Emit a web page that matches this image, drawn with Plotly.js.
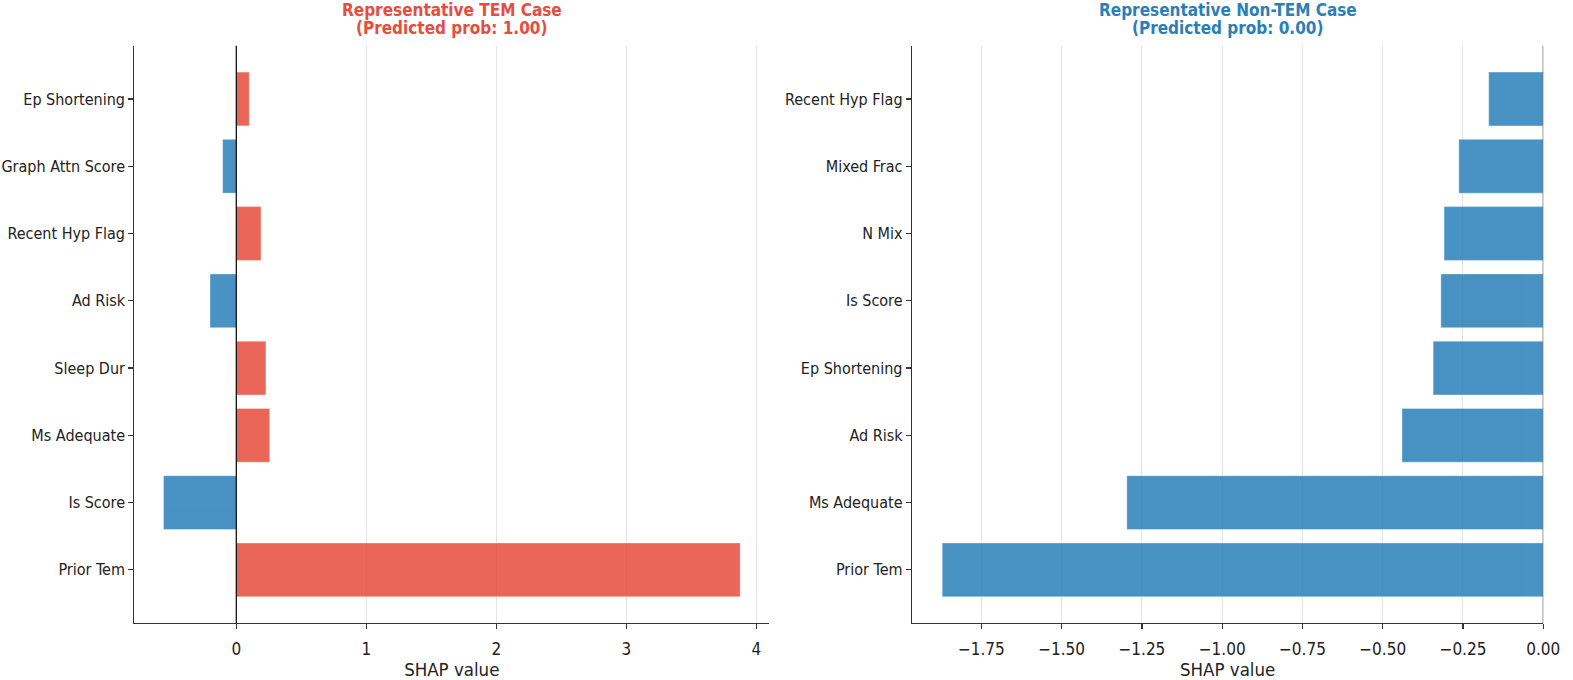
<!DOCTYPE html>
<html>
<head>
<meta charset="utf-8">
<script src="https://cdn.plot.ly/plotly-3.0.1.min.js"></script>
<style>
  html, body { margin: 0; padding: 0; background: #fff; }
  #plot { width: 1573px; height: 680px; }
</style>
</head>
<body>
<div id="plot"></div>
<script>
// SHAP contributions, listed bottom to top as drawn
const temFeatures = ["Prior Tem", "Is Score", "Ms Adequate", "Sleep Dur", "Ad Risk",
                     "Recent Hyp Flag", "Graph Attn Score", "Ep Shortening"];
const temValues = [3.876, -0.56, 0.257, 0.228, -0.202, 0.19, -0.105, 0.10];

const nonTemFeatures = ["Prior Tem", "Ms Adequate", "Ad Risk", "Ep Shortening", "Is Score",
                        "N Mix", "Mixed Frac", "Recent Hyp Flag"];
const nonTemValues = [-1.872, -1.297, -0.440, -0.343, -0.319, -0.309, -0.263, -0.170];

const temTitle = ["Representative TEM Case", "(Predicted prob: 1.00)"];
const nonTemTitle = ["Representative Non-TEM Case", "(Predicted prob: 0.00)"];

const RED = "#e74c3c";
const BLUE = "#2980b9";
const FONT = "DejaVu Sans Condensed, DejaVu Sans, sans-serif";

const signColor = v => v >= 0 ? RED : BLUE;

function barTrace(features, values, xa, ya) {
    return {
        type: "bar",
        orientation: "h",
        x: values,
        y: features,
        xaxis: xa,
        yaxis: ya,
        width: 0.8,
        opacity: 0.85,
        marker: { color: values.map(signColor), line: { color: "rgba(255,255,255,0.6)", width: 0.6 } },
        hoverinfo: "x+y"
    };
}

const xCommon = {
    showgrid: true,
    gridcolor: "#e4e4e4",
    gridwidth: 1,
    zeroline: false,
    showline: true,
    linecolor: "#333",
    linewidth: 1.3,
    ticks: "outside",
    ticklen: 5,
    tickwidth: 1.2,
    tickcolor: "#333",
    ticklabelstandoff: 5,
    tickfont: { family: FONT, size: 17, color: "#222" },
    title: { text: "SHAP value", font: { family: FONT, size: 18.5, color: "#222" }, standoff: 4 },
    automargin: false,
    fixedrange: true
};

const yCommon = {
    type: "category",
    range: [-0.79, 7.79],
    showgrid: false,
    zeroline: false,
    showline: true,
    linecolor: "#333",
    linewidth: 1.3,
    ticks: "outside",
    ticklen: 5,
    tickwidth: 1.2,
    tickcolor: "#333",
    tickfont: { family: FONT, size: 16, color: "#222" },
    automargin: false,
    fixedrange: true
};

const leftDom = [0.0855, 0.4889];
const rightDom = [0.5798, 0.9811];

function titleLines(lines, dom, color) {
    const cx = (dom[0] + dom[1]) / 2;
    return lines.map((t, i) => ({
        text: "<b>" + t + "</b>", xref: "paper", yref: "paper",
        x: cx, y: 1 - (10 + 18.5 * i) / 680, xanchor: "center", yanchor: "middle",
        showarrow: false, font: { family: FONT, size: 17, color: color }
    }));
}

const layout = {
    width: 1573,
    height: 680,
    margin: { l: 0, r: 0, t: 0, b: 0 },
    paper_bgcolor: "#fff",
    plot_bgcolor: "#fff",
    showlegend: false,
    font: { family: FONT },
    xaxis: Object.assign({}, xCommon, {
        domain: leftDom, anchor: "y",
        range: [-0.783, 4.098], dtick: 1, tick0: 0
    }),
    yaxis: Object.assign({}, yCommon, { domain: [0.0838, 0.9326], anchor: "x" }),
    xaxis2: Object.assign({}, xCommon, {
        domain: rightDom, anchor: "y2",
        range: [-1.966, 0], dtick: 0.25, tick0: 0, tickformat: ".2f"
    }),
    yaxis2: Object.assign({}, yCommon, { domain: [0.0838, 0.9326], anchor: "x2" }),
    shapes: [
        { type: "line", xref: "x", yref: "y domain", x0: 0, x1: 0, y0: 0, y1: 1,
          line: { color: "#000", width: 1.2 }, layer: "above" },
        { type: "line", xref: "x2", yref: "y2 domain", x0: 0, x1: 0, y0: 0, y1: 1,
          line: { color: "#555", width: 1.2 }, layer: "above" }
    ],
    annotations: titleLines(temTitle, leftDom, RED).concat(titleLines(nonTemTitle, rightDom, BLUE))
};

Plotly.newPlot("plot", [
    barTrace(temFeatures, temValues, "x", "y"),
    barTrace(nonTemFeatures, nonTemValues, "x2", "y2")
], layout, { displayModeBar: false, staticPlot: true });
</script>
</body>
</html>
